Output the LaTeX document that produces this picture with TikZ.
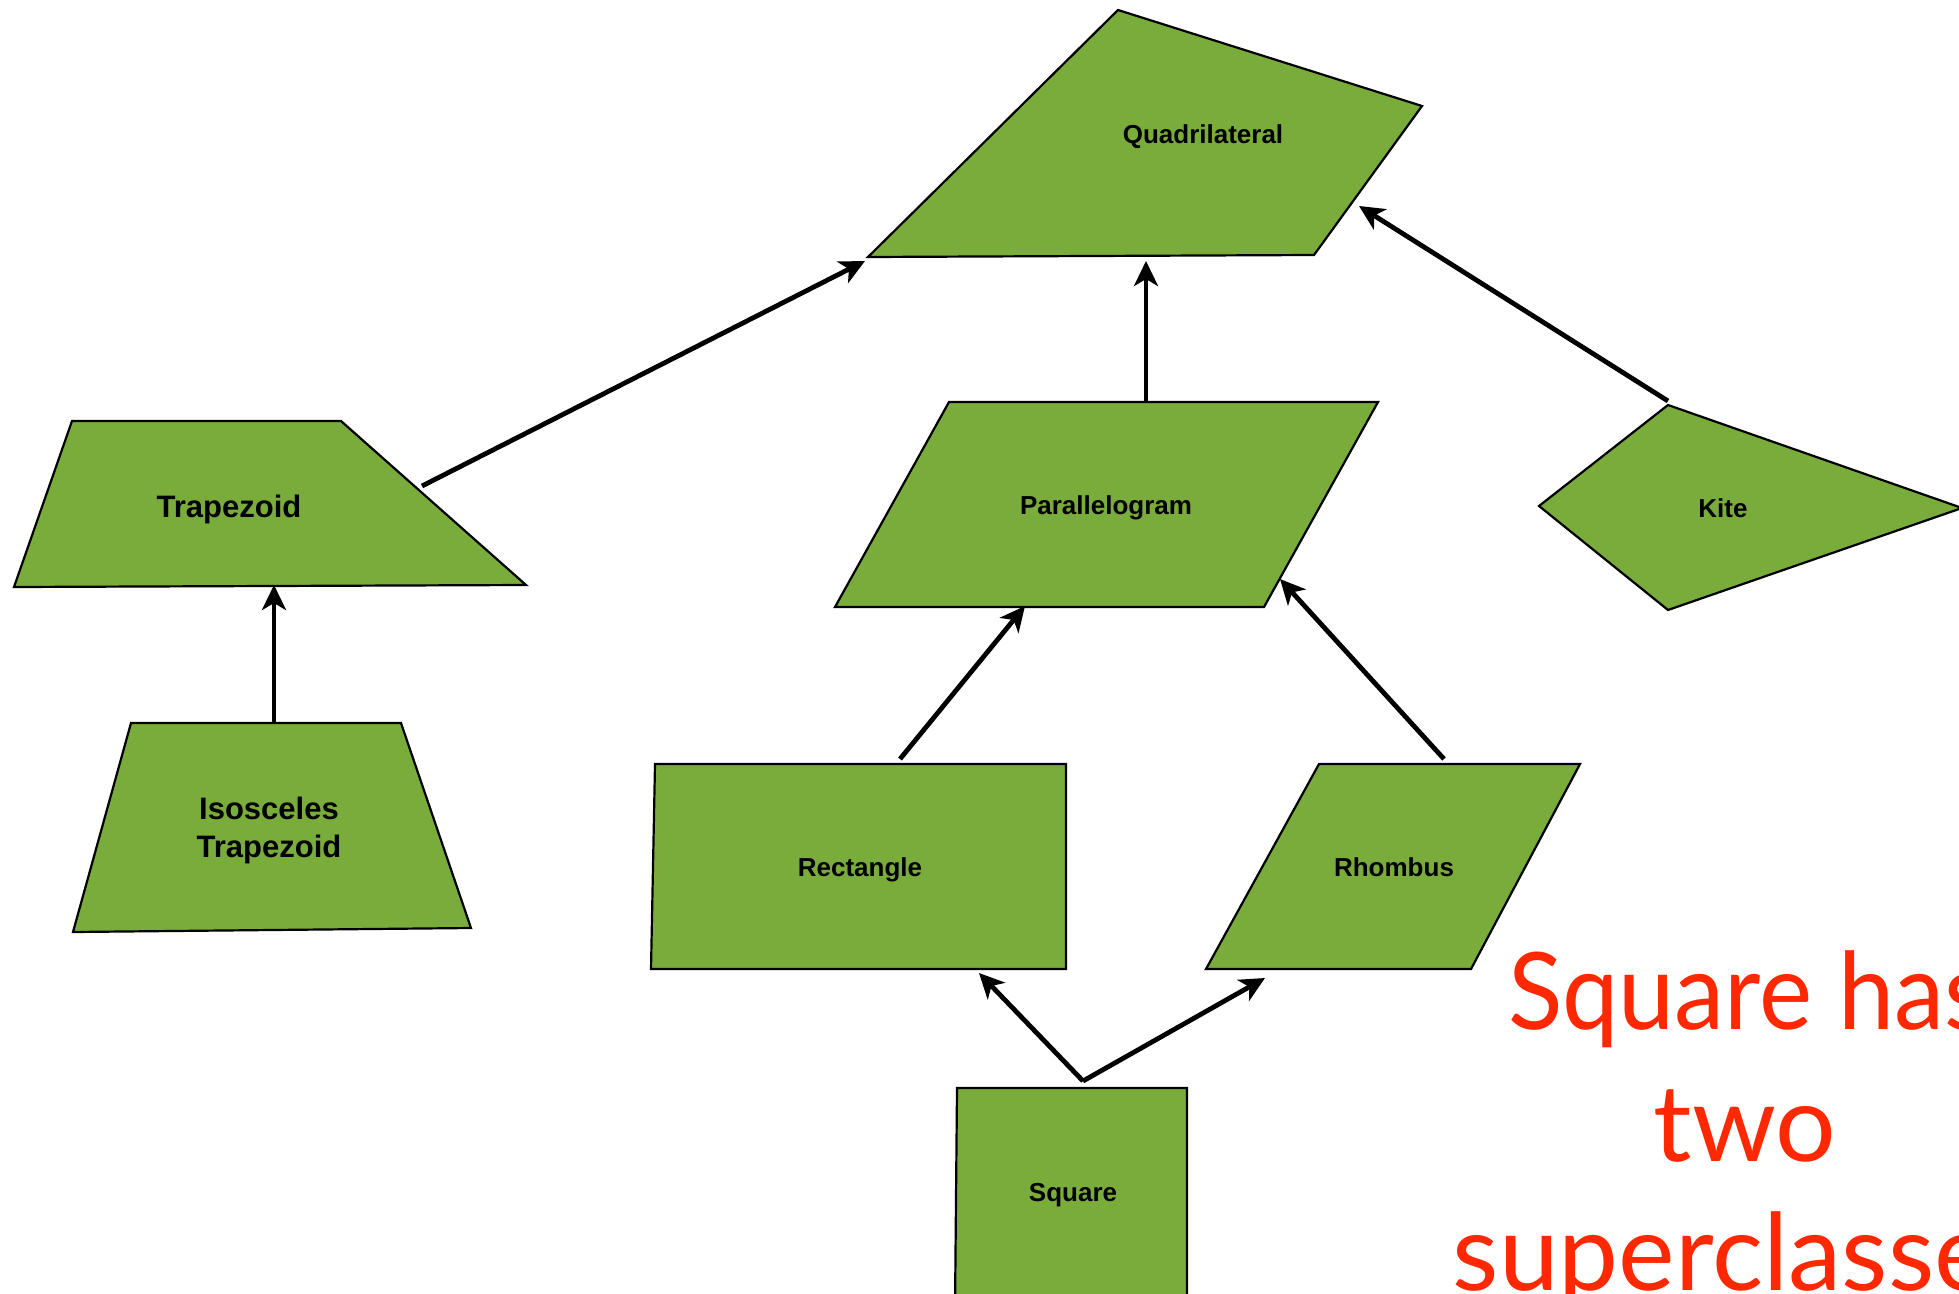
\documentclass[tikz,border=0pt]{standalone}
\usepackage{fontspec}
\setmainfont{Liberation Sans}
\newfontfamily\notefont{Lato}
\newfontfamily\notefontnarrow[FakeStretch=0.94]{Lato}
\usetikzlibrary{arrows.meta}
\definecolor{shapegreen}{RGB}{122,172,59}
\definecolor{notered}{RGB}{255,40,0}

\begin{document}
\begin{tikzpicture}[x=1pt,y=-1pt,
  shapeface/.style={fill=shapegreen,draw=black,line width=2.2pt,line join=miter},
  shapetext/.style={font=\bfseries\fontsize{26}{31}\selectfont,anchor=base,inner sep=0pt},
  bigtext/.style={font=\bfseries\fontsize{31}{38}\selectfont,anchor=base,inner sep=0pt,align=center},
  isa/.style={draw=black,line width=4.8pt,-{Stealth[length=25pt,width=24pt,inset=7pt]}},
  note/.style={text=notered,font=\notefont\fontsize{107}{130}\selectfont,anchor=base,inner sep=0pt}]

\useasboundingbox (0,0) rectangle (1959,1293);
\clip (0,0) rectangle (1959,1293);

% ---- shapes ----
% Quadrilateral
\draw[shapeface] (1118,10) -- (1422,106) -- (1314,255) -- (868,257) -- cycle;
\node[shapetext] (quad) at (1203,143) {Quadrilateral};

% Trapezoid
\draw[shapeface] (72,421) -- (341,421) -- (526,585) -- (14,587) -- cycle;
\node[shapetext,font=\bfseries\fontsize{31}{38}\selectfont] (trap) at (229,517) {Trapezoid};

% Isosceles trapezoid (anchor sits on the last line's baseline)
\draw[shapeface] (131,723) -- (401,723) -- (471,928) -- (73,932) -- cycle;
\node[bigtext] (iso) at (269,857) {Isosceles\\Trapezoid};

% Parallelogram
\draw[shapeface] (949,402) -- (1378,402) -- (1264,607) -- (835,607) -- cycle;
\node[shapetext] (para) at (1106,514) {Parallelogram};

% Rectangle
\draw[shapeface] (655,764) -- (1066,764) -- (1066,969) -- (651,969) -- cycle;
\node[shapetext] (rect) at (860,876) {Rectangle};

% Rhombus
\draw[shapeface] (1319,764) -- (1580,764) -- (1471,969) -- (1206,969) -- cycle;
\node[shapetext] (rhomb) at (1394,876) {Rhombus};

% Kite
\draw[shapeface] (1668,405) -- (1962,508) -- (1668,610) -- (1539,506) -- cycle;
\node[shapetext] (kite) at (1723,517) {Kite};

% Square
\draw[shapeface] (957,1088) -- (1187,1088) -- (1187,1310) -- (955,1310) -- cycle;
\node[shapetext] (square) at (1073,1201) {Square};

% ---- connector end points ----
\coordinate (iso-up)     at (274,723);
\coordinate (trap-down)  at (274,585);
\coordinate (trap-up)    at (422,486);
\coordinate (quad-left)  at (865,261);
\coordinate (para-up)    at (1146,402);
\coordinate (quad-down)  at (1146,261);
\coordinate (kite-up)    at (1668,401);
\coordinate (quad-right) at (1359,206);
\coordinate (rect-up)    at (900,759);
\coordinate (para-left)  at (1025,606);
\coordinate (rhomb-up)   at (1444,759);
\coordinate (para-right) at (1280,579);
\coordinate (square-up)  at (1083,1081);
\coordinate (rect-down)  at (979,973);
\coordinate (rhomb-down) at (1265,978);

% ---- is-a connectors ----
\draw[isa] (iso-up) -- (trap-down);
\draw[isa] (trap-up) -- (quad-left);
\draw[isa] (para-up) -- (quad-down);
\draw[isa] (kite-up) -- (quad-right);
\draw[isa] (rect-up) -- (para-left);
\draw[isa] (rhomb-up) -- (para-right);
\draw[isa] (square-up) -- (rect-down);
\draw[isa] (square-up) -- (rhomb-down);

% ---- note ----
\node[note,anchor=base west,font=\notefontnarrow\fontsize{107}{130}\selectfont] (note1) at (1508,1029) {Square has};
\node[note] (note2) at (1745,1161) {two};
\node[note] (note3) at (1745,1290) {superclasses};
\end{tikzpicture}
\end{document}
